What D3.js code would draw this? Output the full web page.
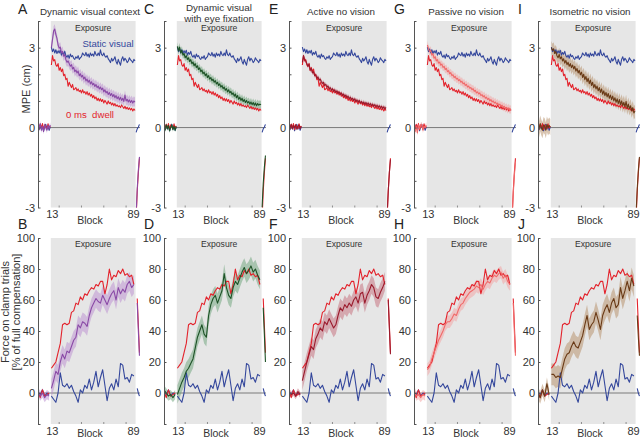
<!DOCTYPE html>
<html><head><meta charset="utf-8">
<script src="https://cdn.jsdelivr.net/npm/d3@7"></script>
<style>body{margin:0;background:#fff}svg{display:block;font-family:"Liberation Sans",Arial,Helvetica,sans-serif}</style>
</head><body><svg id="c" width="640" height="438"></svg>
<script>
// ---------------- DATA ----------------
const panelLetters = [["A","B"],["C","D"],["E","F"],["G","H"],["I","J"]];
const panelTitles = [["Dynamic visual context"],["Dynamic visual","with eye fixation"],["Active no vision"],["Passive no vision"],["Isometric no vision"]];
const mpeTickValues = [-3,-2,-1,0,1,2,3,4];
const mpeTickLabels = [3,0,-3];
const forceTickValues = [-20,0,20,40,60,80,100];
const forceTickLabels = [100,80,60,40,20,0];
const blockTickLabels = [13,89];

// blocks (x categories)
const mpeBlocksPre = [1,2,3,4,5,6,7,8,9,10,11,12];
const mpeBlocksExp = d3.range(13,89);          // 13..88
const mpeBlocksWash = [89,90,91,92];
const forceBlocksPre = [1,3,5,7,9,11];
const forceBlocksExp = d3.range(13,88,2);      // 13..87
const forceBlocksWash = [90,91,92];

// Static visual (blue) MPE
const staticMpePre = [0.05,-0.08,0.10,-0.05,0.08,-0.12,0.04,0.12,-0.06,0.06,-0.10,0.02];
const staticMpeExp = [3.02,2.85,2.95,2.80,2.92,2.78,2.88,2.80,2.90,2.72,
  2.82,2.75,2.86,2.70,2.64,2.72,2.60,2.76,2.66,2.70,
  2.60,2.56,2.66,2.60,2.70,2.56,2.62,2.66,2.80,2.74,
  2.70,2.82,2.68,2.76,2.64,2.80,2.70,2.76,2.68,2.86,
  2.74,2.70,2.80,2.70,2.92,2.74,2.70,2.80,2.68,2.64,
  2.70,2.58,2.52,2.44,2.60,2.50,2.56,2.66,2.48,2.38,
  2.56,2.44,2.34,2.56,2.66,2.50,2.60,2.54,2.44,2.50,
  2.62,2.54,2.50,2.44,2.56,2.50];
const staticMpeWash = [-0.18,-0.05,0.02,0.12];

// 0 ms dwell (red) MPE
const dwellMpePre = [0.08,-0.05,0.12,0.00,0.15,-0.08,0.10,0.05,-0.04,0.14,-0.02,0.06];
const dwellMpeExp = [2.35,2.70,2.50,2.55,2.35,2.30,2.40,2.15,2.25,2.10,
  2.20,1.95,2.00,1.80,1.85,1.55,1.70,1.60,1.50,1.62,
  1.42,1.45,1.50,1.38,1.45,1.35,1.40,1.30,1.42,1.30,
  1.35,1.25,1.35,1.22,1.30,1.18,1.25,1.12,1.20,1.08,
  1.15,1.02,1.10,1.00,1.08,0.98,1.05,0.92,1.02,0.95,
  0.88,1.00,0.90,0.95,0.85,0.92,0.82,0.90,0.80,0.85,
  0.78,0.82,0.75,0.85,0.78,0.72,0.80,0.70,0.76,0.68,
  0.74,0.66,0.72,0.62,0.70,0.64];
const dwellMpeWash = [-3.4,-2.4,-1.7,-1.15];

// Condition MPE (mean) and SE
const condMpePre = {
  A:[0.10,-0.05,0.15,-0.10,0.05,-0.15,0.10,0.00,-0.10,0.08,-0.05,0.10],
  C:[0.05,-0.10,0.10,-0.05,0.08,-0.12,0.00,0.10,-0.08,0.05,-0.10,0.04],
  E:[0.10,0.00,0.12,-0.05,0.08,0.00,0.10,-0.06,0.05,0.10,-0.04,0.05],
  G:[0.00,-0.15,0.05,-0.20,0.10,-0.05,0.08,0.12,-0.10,0.05,0.00,0.10],
  I:[0.10,-0.05,0.15,0.00,-0.10,0.10,0.05,-0.10,0.12,0.00,0.08,0.02]
};
const mpeExpA = [3.00,3.30,3.62,3.70,3.50,3.35,3.10,2.98,3.02,2.80,
  2.86,2.68,2.74,2.55,2.45,2.50,2.40,2.30,2.36,2.20,
  2.26,2.10,2.16,2.05,2.12,1.95,2.02,1.90,1.96,1.82,
  1.90,1.75,1.82,1.70,1.78,1.64,1.72,1.60,1.66,1.54,
  1.62,1.50,1.56,1.45,1.52,1.42,1.48,1.34,1.42,1.30,
  1.36,1.24,1.32,1.20,1.28,1.16,1.24,1.12,1.20,1.08,
  1.16,1.04,1.14,1.02,1.10,0.98,1.22,1.00,1.06,0.96,
  1.04,0.94,1.02,0.92,1.00,0.95];
const mpeExpC = [3.05,2.88,3.02,2.80,2.90,2.72,2.78,2.62,2.70,2.56,
  2.62,2.48,2.55,2.40,2.46,2.32,2.40,2.26,2.32,2.18,
  2.24,2.10,2.16,2.02,2.08,1.95,2.02,1.88,1.95,1.82,
  1.88,1.76,1.82,1.70,1.76,1.64,1.70,1.58,1.64,1.52,
  1.58,1.46,1.52,1.40,1.46,1.34,1.42,1.30,1.36,1.24,
  1.30,1.18,1.26,1.12,1.20,1.06,1.14,1.02,1.10,0.98,
  1.05,0.94,1.02,0.92,0.98,0.88,0.96,0.86,0.94,0.84,
  0.92,0.82,0.90,0.84,0.88,0.85];
const mpeExpE = [2.45,2.70,2.55,2.50,2.40,2.30,2.38,2.15,2.22,2.05,
  2.10,1.95,1.98,1.85,1.90,1.78,1.82,1.72,1.66,1.70,
  1.58,1.62,1.52,1.56,1.45,1.50,1.40,1.46,1.36,1.42,
  1.32,1.38,1.28,1.34,1.24,1.30,1.20,1.26,1.16,1.22,
  1.12,1.18,1.08,1.14,1.05,1.10,1.02,1.08,0.98,1.04,
  0.95,1.02,0.92,0.98,0.90,0.96,0.88,0.94,0.86,0.92,
  0.84,0.90,0.82,0.88,0.80,0.86,0.78,0.84,0.76,0.82,
  0.74,0.80,0.72,0.78,0.70,0.76];
const mpeExpG = [3.10,2.95,2.85,2.90,2.72,2.78,2.60,2.66,2.50,2.55,
  2.42,2.46,2.34,2.38,2.26,2.30,2.18,2.22,2.10,2.14,
  2.02,2.06,1.95,1.98,1.88,1.92,1.82,1.85,1.76,1.80,
  1.70,1.74,1.64,1.68,1.58,1.62,1.52,1.56,1.48,1.50,
  1.42,1.46,1.36,1.40,1.30,1.34,1.26,1.30,1.20,1.24,
  1.15,1.20,1.10,1.14,1.05,1.10,1.00,1.05,0.96,1.00,
  0.92,0.96,0.88,0.92,0.84,0.88,0.80,0.84,0.76,0.80,
  0.72,0.76,0.68,0.74,0.66,0.70];
const mpeExpI = [3.00,2.90,2.95,2.78,2.85,2.70,2.62,2.75,2.58,2.66,
  2.50,2.58,2.42,2.52,2.36,2.45,2.30,2.40,2.25,2.35,
  2.20,2.30,2.12,2.22,2.05,2.15,1.98,2.08,1.88,2.00,
  1.80,1.92,1.72,1.85,1.65,1.78,1.58,1.70,1.50,1.62,
  1.45,1.56,1.38,1.50,1.32,1.45,1.25,1.38,1.20,1.32,
  1.15,1.28,1.10,1.22,1.05,1.18,1.00,1.12,0.95,1.08,
  0.90,1.05,0.85,1.00,0.82,0.95,0.78,0.98,0.72,0.88,
  0.70,0.82,0.62,0.75,0.55,0.62];
const condMpeWash = {A:[-3.3,-2.3,-1.6,-1.1],C:[-3.0,-2.1,-1.5,-1.05],E:[-3.3,-2.4,-1.7,-1.2],G:[-3.4,-2.5,-1.8,-1.3],I:[-3.2,-2.3,-1.6,-1.1]};
const condMpeSePre = {A:0.10,C:0.08,E:0.05,G:0.10,I:0.30};
const condMpeSeExp = {A:0.18,C:0.15,E:0.08,G:0.15,I:0.25};

// Static visual (blue) force
const staticForcePre = [1,-1,2,-2,0,-1];
const staticForceExp = [-2,-4,-6,0,13,5,4,6,3,5,1,-2,-6,2,0,5,3,9,2,7,14,4,10,15,5,-5,3,6,2,9,4,19,18,9,10,7,12,11];
const staticForceWash = [3,0,-2];
// 0 ms dwell (red) force
const dwellForcePre = [1,-3,2,-2,-1,0];
const dwellForceExp = [16,18,20,26,32,44,45,44,45,52,53,58,57,62,60,64,63,66,68,67,70,69,72,72,64,70,80,73,76,75,79,77,80,76,77,75,76,70];
const dwellForceWash = [61,44,26];
// Condition force
const condForcePre = {A:[1,-2,0,-3,-1,-2],C:[2,0,-2,-1,-3,-1],E:[1,-1,0,-2,1,-1],G:[2,-2,-1,-3,-1,-2],I:[0,-3,2,-2,6,-1]};
const forceExpA = [3,8,14,12,20,25,22,27,26,30,34,36,44,42,46,45,43,50,55,58,61,59,58,63,60,57,61,64,66,60,68,64,67,65,70,72,68,70];
const forceExpC = [-1,3,7,10,14,16,19,22,29,36,40,44,38,36,50,57,61,63,58,62,66,77,68,63,61,68,72,70,74,78,81,77,79,82,78,80,76,73];
const forceExpE = [8,14,20,25,30,28,35,38,42,40,46,44,48,45,42,44,50,55,53,57,55,58,56,60,62,58,64,65,58,63,66,70,68,62,61,65,68,72];
const forceExpG = [15,17,22,26,30,34,37,40,44,46,46,48,51,50,54,57,58,61,63,65,66,67,69,68,70,67,70,72,71,74,76,75,77,78,74,76,72,70];
const forceExpI = [12,12,10,11,10,16,22,25,26,30,33,30,29,33,37,44,50,41,44,46,52,47,41,50,54,57,52,58,61,55,57,68,61,66,72,66,74,69];
const condForceWash = {A:[58,40,24],C:[55,38,20],E:[60,42,25],G:[58,40,24],I:[50,36,24]};
const condForceSePre = {A:3,C:3,E:2,G:3,I:4};
const condForceSeExp = {A:6,C:6,E:6,G:4,I:7};

// ---------------- STYLE ----------------
const BLUE = "#34479c", RED = "#e3232c";
const condStyle = {
  A:{line:"#8a4aa6", band:"#b98bd0"},
  C:{line:"#1d5226", band:"#6aa277"},
  E:{line:"#9a1a2c", band:"#c46a78"},
  G:{line:"#f06a6a", band:"#f4a0a0"},
  I:{line:"#6a3a16", band:"#b48c64"}
};
const condKeys = ["A","C","E","G","I"];
const mpeExp = {A:mpeExpA,C:mpeExpC,E:mpeExpE,G:mpeExpG,I:mpeExpI};
const forceExp = {A:forceExpA,C:forceExpC,E:forceExpE,G:forceExpG,I:forceExpI};

const svg = d3.select("#c");
const FONT = "Liberation Sans, Arial, sans-serif";
const axisX0 = [38,164,289,414,538];
const rows = [
  {top:21, bottom:207.5, domain:[-3,4], ticks:mpeTickValues, labels:mpeTickLabels, letterY:14, expoY:31, tickLabY:3, blockY:224},
  {top:238, bottom:424, domain:[-20,100], ticks:forceTickValues, labels:forceTickLabels, letterY:229, expoY:247, tickLabY:3, blockY:437}
];

function line(g, x, y, blocks, vals, color, w){
  g.append("path").datum(blocks.map((b,i)=>[b,vals[i]]))
    .attr("d", d3.line().x(d=>x(d[0])).y(d=>y(d[1])))
    .attr("fill","none").attr("stroke",color).attr("stroke-width",w).attr("stroke-linejoin","round");
}
function band(g, x, y, blocks, vals, se, color, op){
  g.append("path").datum(blocks.map((b,i)=>[b,vals[i]]))
    .attr("d", d3.area().x(d=>x(d[0])).y0(d=>y(d[1]-se)).y1(d=>y(d[1]+se)))
    .attr("fill",color).attr("opacity",op).attr("stroke","none");
}

condKeys.forEach((k, p) => {
  const x0 = axisX0[p];
  const x = d3.scaleLinear().domain([1,88]).range([x0, x0+97]);
  rows.forEach((r, ri) => {
    const y = d3.scaleLinear().domain(r.domain).range([r.bottom, r.top]);
    const g = svg.append("g");
    const clipId = `clip${p}${ri}`;
    g.append("clipPath").attr("id",clipId).append("rect")
      .attr("x",x0).attr("y",r.top).attr("width",106).attr("height",r.bottom-r.top);
    // shading
    g.append("rect").attr("x",x(13)-0.6).attr("y",r.top).attr("width",x(88)-x(13)+1.2).attr("height",r.bottom-r.top).attr("fill","#e6e6e6");
    // zero line
    g.append("line").attr("x1",x0).attr("x2",x(92)+0.5).attr("y1",y(0)).attr("y2",y(0)).attr("stroke","#7a7a7a").attr("stroke-width",1);
    // Exposure label
    g.append("text").attr("x",(x(13)+x(88))/2).attr("y",r.expoY).attr("text-anchor","middle")
      .attr("font-size",8.6).attr("fill","#333").text("Exposure");
    const dg = g.append("g").attr("clip-path",`url(#${clipId})`);
    const st = condStyle[k];
    if (ri === 0) {
      band(dg,x,y,mpeBlocksPre,condMpePre[k],condMpeSePre[k],st.band,0.5);
      band(dg,x,y,mpeBlocksExp,mpeExp[k],condMpeSeExp[k],st.band,0.5);
      line(dg,x,y,mpeBlocksPre,staticMpePre,BLUE,1.1);
      line(dg,x,y,mpeBlocksExp,staticMpeExp,BLUE,1.1);
      line(dg,x,y,mpeBlocksWash,staticMpeWash,BLUE,1.1);
      line(dg,x,y,mpeBlocksPre,dwellMpePre,RED,1.1);
      line(dg,x,y,mpeBlocksExp,dwellMpeExp,RED,1.1);
      line(dg,x,y,mpeBlocksWash,dwellMpeWash,RED,1.1);
      line(dg,x,y,mpeBlocksPre,condMpePre[k],st.line,1.1);
      line(dg,x,y,mpeBlocksExp,mpeExp[k],st.line,1.1);
      line(dg,x,y,mpeBlocksWash,condMpeWash[k],st.line,1.1);
    } else {
      band(dg,x,y,forceBlocksPre,condForcePre[k],condForceSePre[k],st.band,0.5);
      band(dg,x,y,forceBlocksExp,forceExp[k],condForceSeExp[k],st.band,0.5);
      line(dg,x,y,forceBlocksPre,staticForcePre,BLUE,1.1);
      line(dg,x,y,forceBlocksExp,staticForceExp,BLUE,1.1);
      line(dg,x,y,forceBlocksWash,staticForceWash,BLUE,1.1);
      line(dg,x,y,forceBlocksPre,dwellForcePre,RED,1.1);
      line(dg,x,y,forceBlocksExp,dwellForceExp,RED,1.1);
      line(dg,x,y,forceBlocksWash,dwellForceWash,RED,1.1);
      line(dg,x,y,forceBlocksPre,condForcePre[k],st.line,1.1);
      line(dg,x,y,forceBlocksExp,forceExp[k],st.line,1.1);
      line(dg,x,y,forceBlocksWash,condForceWash[k],st.line,1.1);
    }
    // y axis
    const ya = g.append("g").attr("transform",`translate(${x0},0)`)
      .call(d3.axisLeft(y).tickValues(r.ticks).tickSizeInner(-2.5).tickSizeOuter(0).tickPadding(3)
        .tickFormat(d => r.labels.includes(d) ? String(d) : ""));
    ya.select(".domain").attr("stroke","#555");
    ya.selectAll(".tick line").attr("stroke","#555");
    ya.selectAll("text").attr("font-size",11).attr("font-family",FONT).attr("fill","#333");
    // x tick labels
    const xa = g.append("g").attr("transform",`translate(0,${r.bottom})`)
      .call(d3.axisBottom(x).tickValues(blockTickLabels).tickSize(0).tickPadding(r.tickLabY).tickFormat(d=>String(d)));
    xa.select(".domain").remove();
    xa.selectAll("text").attr("font-size",11).attr("font-family",FONT).attr("fill","#333")
      .attr("dx", d => d === 89 ? -3 : 0.5);
    [20,40,60,80].forEach(b=>{
      g.append("line").attr("x1",x(b)).attr("x2",x(b)).attr("y1",r.bottom).attr("y2",r.bottom-2).attr("stroke","#777").attr("stroke-width",0.8);
    });
    g.append("text").attr("x",x0+52).attr("y",r.blockY).attr("text-anchor","middle")
      .attr("font-size",10.5).attr("fill","#333").text("Block");
    // panel letter
    g.append("text").attr("x",x0-20).attr("y",r.letterY).attr("font-size",14).attr("fill","#222").text(panelLetters[p][ri]);
  });
  // title
  const t = panelTitles[p];
  t.forEach((s,i)=>{
    svg.append("text").attr("x",x0+ (t.length>1?55:52)).attr("y", t.length>1 ? 11+i*10.5 : 15)
      .attr("text-anchor","middle").attr("font-size",9.8).attr("fill","#333").text(s);
  });
});

// Legend-like labels in panel A
svg.append("text").attr("x",108).attr("y",47).attr("text-anchor","middle").attr("font-size",9.6).attr("fill",BLUE).text("Static visual");
svg.append("text").attr("x",90).attr("y",118).attr("text-anchor","middle").attr("font-size",9.6).attr("fill",RED).style("white-space","pre").text("0 ms  dwell");

// y-axis titles
svg.append("text").attr("transform","translate(30,89) rotate(-90)").attr("text-anchor","middle").attr("font-size",11).attr("fill","#333").text("MPE (cm)");
svg.append("text").attr("transform","translate(9,312) rotate(-90)").attr("text-anchor","middle").attr("font-size",11).attr("fill","#333").text("Force on clamp trials");
svg.append("text").attr("transform","translate(19.5,312) rotate(-90)").attr("text-anchor","middle").attr("font-size",11).attr("fill","#333").text("[% of full compensation]");
</script></body></html>
